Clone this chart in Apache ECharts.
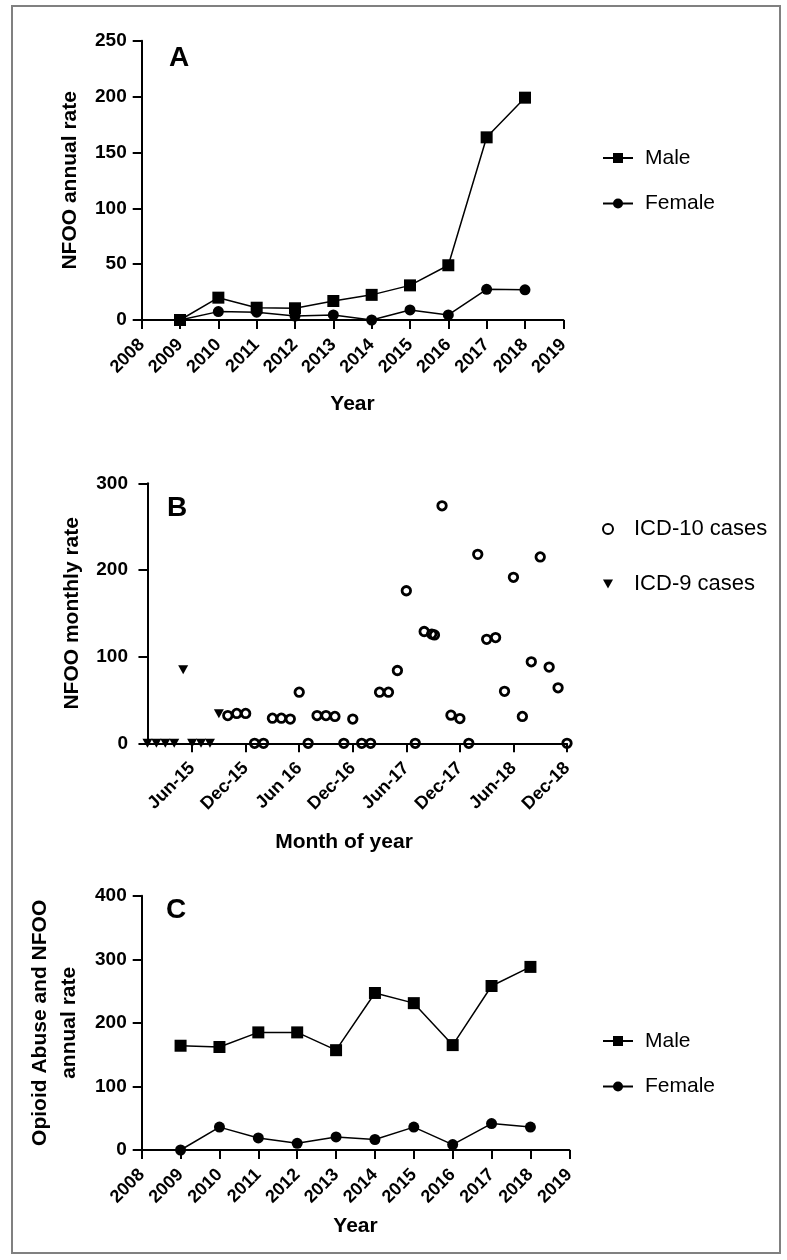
<!DOCTYPE html>
<html><head><meta charset="utf-8">
<script src="https://cdn.jsdelivr.net/npm/echarts@6/dist/echarts.min.js"></script>
<style>html,body{margin:0;padding:0;background:#fff}#c{width:787px;height:1260px}</style>
</head><body><div id="c"></div>
<script>
// ---- Data ----
const years = [2009, 2010, 2011, 2012, 2013, 2014, 2015, 2016, 2017, 2018];
const nfooMale = [0, 20, 11, 10.5, 17, 22.5, 31, 49, 163.5, 199];
const nfooFemale = [0, 7.5, 7, 3.5, 4.5, 0, 9, 4.5, 27.5, 27];

// months counted from Jan-2015 (= 0)
const icd9Month = [0, 1, 2, 3, 4, 5, 6, 7, 8];
const icd9Rate = [0, 0, 0, 0, 85, 0, 0, 0, 34];
const icd10Month = [9, 10, 11,
  12, 13, 14, 15, 16, 17, 18, 19, 20, 21, 22, 23,
  24, 25, 26, 27, 28, 29, 30, 31, 31.85, 32.15, 33, 34, 35,
  36, 37, 38, 39, 40, 41, 42, 43, 44, 45, 46, 47];
const icd10Rate = [32, 34.5, 34.5,
  0, 0, 29, 29, 28, 59, 0, 32, 32, 31, 0, 28,
  0, 0, 59, 59, 84, 176, 0, 129, 126, 125, 274, 32.5, 28.5,
  0, 218, 120, 122, 60, 191.5, 31, 94, 215, 88, 64, 0];
const monthTickValues = [5, 11, 17, 23, 29, 35, 41, 47];
const monthTickLabels = ['Jun-15', 'Dec-15', 'Jun 16', 'Dec-16', 'Jun-17', 'Dec-17', 'Jun-18', 'Dec-18'];

const abuseMale = [164, 162, 185, 185, 157, 247, 231, 165, 258, 288];
const abuseFemale = [0, 36, 19, 10.5, 20.5, 16.5, 36, 8.5, 41.5, 36];

// ---- Chart ----
const FONT = 'Liberation Sans, Arial, sans-serif';
const axisLine = { lineStyle: { color: '#000', width: 2 } };
const axisTick = { length: 9, lineStyle: { color: '#000', width: 2 } };
const nameStyle = { fontWeight: 'bold', fontSize: 21, color: '#000', fontFamily: FONT };
const xLabel = { color: '#000', fontWeight: 'bold', fontSize: 18, fontFamily: FONT, rotate: 45, margin: 22 };
const yLabel = { color: '#000', fontWeight: 'bold', fontSize: 19, fontFamily: FONT, margin: 15 };
const pairs = (xs, ys) => xs.map((x, i) => [x, ys[i]]);
const lineSeries = (name, idx, data, symbol, size) => ({
  name, type: 'line', xAxisIndex: idx, yAxisIndex: idx, data,
  symbol, symbolSize: size, showSymbol: true,
  lineStyle: { color: '#000', width: 1.5 }, itemStyle: { color: '#000' },
  emphasis: { disabled: true }, animation: false
});
const yearAxis = (gi, gap) => ({
  type: 'value', gridIndex: gi, min: 2008, max: 2019, interval: 1,
  name: 'Year', nameLocation: 'middle', nameGap: gap, nameTextStyle: nameStyle,
  axisLine, axisTick, splitLine: { show: false },
  axisLabel: Object.assign({}, xLabel, { formatter: v => String(v) })
});
const legendText = (size, pad) => ({ color: '#000', fontSize: size, fontFamily: FONT, padding: [0, 0, 0, pad] });

const option = {
  backgroundColor: '#fff',
  animation: false,
  grid: [
    { left: 141.7, right: 223.7, top: 40.7, bottom: 940 },
    { left: 143, right: 220, top: 483.3, bottom: 516.7 },
    { left: 141.7, right: 217.7, top: 895.7, bottom: 110 }
  ],
  xAxis: [
    yearAxis(0, 74),
    {
      type: 'value', gridIndex: 1, min: -0.5, max: 47,
      name: 'Month of year', nameLocation: 'middle', nameGap: 88,
      nameTextStyle: Object.assign({}, nameStyle, { padding: [0, 22, 0, 0] }),
      axisLine, splitLine: { show: false },
      axisTick: Object.assign({}, axisTick, { customValues: monthTickValues }),
      axisLabel: Object.assign({}, xLabel, {
        customValues: monthTickValues,
        formatter: v => monthTickLabels[monthTickValues.indexOf(v)]
      })
    },
    yearAxis(2, 66)
  ],
  yAxis: [
    {
      type: 'value', gridIndex: 0, min: 0, max: 250, interval: 50,
      name: 'NFOO annual rate', nameLocation: 'middle', nameGap: 61, nameTextStyle: nameStyle,
      axisLine: Object.assign({ show: true }, axisLine), axisTick: Object.assign({ show: true }, axisTick),
      splitLine: { show: false }, axisLabel: yLabel
    },
    {
      type: 'value', gridIndex: 1, min: 0, max: 300, interval: 100,
      name: 'NFOO monthly rate', nameLocation: 'middle', nameGap: 60, nameTextStyle: nameStyle,
      axisLine: Object.assign({ show: true }, axisLine), axisTick: Object.assign({ show: true }, axisTick),
      splitLine: { show: false }, axisLabel: yLabel
    },
    {
      type: 'value', gridIndex: 2, min: 0, max: 400, interval: 100,
      name: 'Opioid Abuse and NFOO\nannual rate', nameLocation: 'middle', nameGap: 55,
      nameTextStyle: Object.assign({}, nameStyle, { lineHeight: 29 }),
      axisLine: Object.assign({ show: true }, axisLine), axisTick: Object.assign({ show: true }, axisTick),
      splitLine: { show: false }, axisLabel: yLabel
    }
  ],
  legend: [
    {
      orient: 'vertical', left: 597, top: 142.5, itemWidth: 30, itemHeight: 12.5, itemGap: 24.5,
      selectedMode: false, data: ['Male', 'Female'], textStyle: legendText(21, 7)
    },
    {
      orient: 'vertical', left: 597, top: 513, itemWidth: 10, itemHeight: 10, itemGap: 33,
      selectedMode: false, data: ['ICD-10 cases', 'ICD-9 cases'], textStyle: legendText(22, 16)
    },
    {
      orient: 'vertical', left: 597, top: 1025.5, itemWidth: 30, itemHeight: 12.5, itemGap: 24.5,
      selectedMode: false, data: ['Male', 'Female'], textStyle: legendText(21, 7)
    }
  ],
  graphic: [
    { type: 'rect', shape: { x: 12, y: 6, width: 768, height: 1247 }, style: { fill: 'none', stroke: '#808080', lineWidth: 2 }, silent: true },
    { type: 'text', left: 169, top: 44, style: { text: 'A', font: 'bold 28px Liberation Sans', fill: '#000' } },
    { type: 'text', left: 167, top: 494, style: { text: 'B', font: 'bold 28px Liberation Sans', fill: '#000' } },
    { type: 'text', left: 166, top: 896, style: { text: 'C', font: 'bold 28px Liberation Sans', fill: '#000' } }
  ],
  series: [
    lineSeries('Female', 0, pairs(years, nfooFemale), 'circle', 11),
    lineSeries('Male', 0, pairs(years, nfooMale), 'rect', 12),
    {
      name: 'ICD-10 cases', type: 'scatter', xAxisIndex: 1, yAxisIndex: 1,
      data: pairs(icd10Month, icd10Rate), symbol: 'circle', symbolSize: 8.5,
      itemStyle: { color: 'rgba(255,255,255,0)', borderColor: '#000', borderWidth: 2.8, opacity: 1 },
      emphasis: { disabled: true }, clip: false
    },
    {
      name: 'ICD-9 cases', type: 'scatter', xAxisIndex: 1, yAxisIndex: 1,
      data: pairs(icd9Month, icd9Rate), symbol: 'path://M0,0L10,0L5,9Z', symbolSize: [10, 9],
      itemStyle: { color: '#000', opacity: 1 }, emphasis: { disabled: true }, clip: false
    },
    lineSeries('Female', 2, pairs(years, abuseFemale), 'circle', 11),
    lineSeries('Male', 2, pairs(years, abuseMale), 'rect', 12)
  ]
};
const chart = echarts.init(document.getElementById('c'), null, { renderer: 'canvas' });
chart.setOption(option);
</script>
</body></html>
